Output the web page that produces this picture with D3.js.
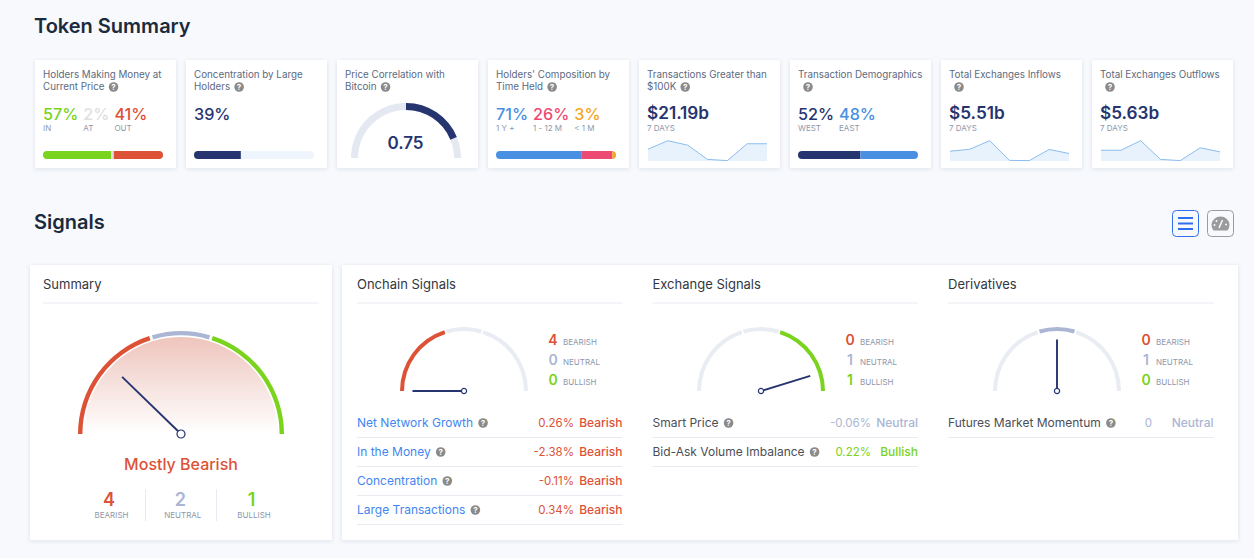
<!DOCTYPE html>
<html>
<head>
<meta charset="utf-8">
<script src="https://cdn.jsdelivr.net/npm/d3@7"></script>
<style>
  html, body { margin: 0; padding: 0; background: #f7f9fd; overflow: hidden; }
  svg { display: block; font-family: Inter, "Noto Sans", sans-serif; }
</style>
</head>
<body>
<svg width="1254" height="558"></svg>
<script>
// token summary cards
const cardTitles = [
  ["Holders Making Money at", "Current Price"],
  ["Concentration by Large", "Holders"],
  ["Price Correlation with", "Bitcoin"],
  ["Holders' Composition by", "Time Held"],
  ["Transactions Greater than", "$100K"],
  ["Transaction Demographics", ""],
  ["Total Exchanges Inflows", ""],
  ["Total Exchanges Outflows", ""]
];

const moneyValues = [57, 2, 41];
const moneyLabels = ["IN", "AT", "OUT"];
const concentrationValue = 39;
const correlationValue = 0.75;
const timeHeldValues = [71, 26, 3];
const timeHeldLabels = ["1 Y +", "1 - 12 M", "< 1 M"];
const demographicValues = [52, 48];
const demographicLabels = ["WEST", "EAST"];

// sparklines, relative to the highest day of each week
const largeTxTotal = "$21.19b";
const largeTxSeries = [58, 100, 78, 8, 2, 85, 85];
const inflowTotal = "$5.51b";
const inflowSeries = [48, 58, 100, 3, 2, 57, 37];
const outflowTotal = "$5.63b";
const outflowSeries = [53, 53, 100, 8, 2, 65, 45];

// signals
const signalKinds = ["Bearish", "Neutral", "Bullish"];
const gaugeBands = [-1, -0.2, 0.2, 1];
const summaryCounts = [4, 2, 1];
const summaryNeedle = -0.51;
const onchainCounts = [4, 0, 0];
const onchainNeedle = -1;
const exchangeCounts = [0, 1, 1];
const exchangeNeedle = 0.81;
const derivativeCounts = [0, 1, 0];
const derivativeNeedle = 0;

const onchainNames = ["Net Network Growth", "In the Money", "Concentration", "Large Transactions"];
const onchainValues = ["0.26%", "-2.38%", "-0.11%", "0.34%"];
const onchainStates = ["Bearish", "Bearish", "Bearish", "Bearish"];
const exchangeNames = ["Smart Price", "Bid-Ask Volume Imbalance"];
const exchangeValues = ["-0.06%", "0.22%"];
const exchangeStates = ["Neutral", "Bullish"];
const derivativeNames = ["Futures Market Momentum"];
const derivativeValues = ["0"];
const derivativeStates = ["Neutral"];

const red = "#dd5236", green = "#7ad31c", neutral = "#aab6d3", idle = "#e9ecf3";
const navy = "#26346f", blue = "#4a90e2", pink = "#ec4a73", orange = "#f5a623";
const kindColor = { Bearish: red, Neutral: neutral, Bullish: green };

const svg = d3.select("svg");
const defs = svg.append("defs");

const shadow = defs.append("filter").attr("id", "shadow")
  .attr("x", "-10%").attr("y", "-10%").attr("width", "120%").attr("height", "120%");
shadow.append("feDropShadow").attr("dx", 0).attr("dy", 1).attr("stdDeviation", 2)
  .attr("flood-color", "#1e2a50").attr("flood-opacity", 0.1);

const grad = defs.append("linearGradient").attr("id", "bearFill")
  .attr("x1", 0).attr("y1", 0).attr("x2", 0).attr("y2", 1);
grad.append("stop").attr("offset", "0%").attr("stop-color", "#eec5bd");
grad.append("stop").attr("offset", "100%").attr("stop-color", "#ffffff");

function label(x, y, str, size, color, weight, anchor) {
  return svg.append("text")
    .attr("x", x).attr("y", y)
    .attr("font-size", size)
    .attr("font-weight", weight || 400)
    .attr("fill", color)
    .attr("text-anchor", anchor || "start")
    .text(str);
}

function card(x, y, w, h) {
  svg.append("rect").attr("x", x).attr("y", y).attr("width", w).attr("height", h)
    .attr("fill", "#fff").attr("filter", "url(#shadow)");
}

function helpIcon(x, y) {
  svg.append("circle").attr("cx", x).attr("cy", y).attr("r", 4.8).attr("fill", "#8a8a8a");
  label(x, y + 3, "?", 8, "#fff", 700, "middle");
}

function rule(x1, x2, y) {
  svg.append("line").attr("x1", x1).attr("x2", x2).attr("y1", y).attr("y2", y)
    .attr("stroke", "#e8ebf1").attr("stroke-width", 1);
}

function stackedBar(x, id, values, colors, back) {
  const xs = d3.scaleLinear().domain([0, 100]).range([x, x + 120]);
  defs.append("clipPath").attr("id", id).append("rect")
    .attr("x", x).attr("y", 151).attr("width", 120).attr("height", 8).attr("rx", 4);
  const g = svg.append("g").attr("clip-path", "url(#" + id + ")");
  if (back) g.append("rect").attr("x", x).attr("y", 151).attr("width", 120).attr("height", 8).attr("fill", back);
  let sum = 0;
  values.forEach((v, i) => {
    g.append("rect").attr("x", xs(sum)).attr("y", 151)
      .attr("width", xs(sum + v) - xs(sum)).attr("height", 8).attr("fill", colors[i]);
    sum += v;
  });
}

function statRow(x, values, labels, colors) {
  let cur = x;
  values.forEach((v, i) => {
    const t = label(cur, 120, v + "%", 16.2, colors[i], 500);
    label(cur, 131, labels[i], 8, "#8e97aa");
    cur += t.node().getComputedTextLength() + 5;
  });
}

function sparkline(x, total, series) {
  label(x, 119, total, 17.2, navy, 600);
  label(x, 131, "7 DAYS", 8, "#8e97aa");
  const sx = d3.scaleLinear().domain([0, series.length - 1]).range([x + 1, x + 120]);
  const sy = d3.scaleLinear().domain([0, 100]).range([161, 140.7]);
  const area = d3.area().x((d, i) => sx(i)).y0(161).y1(d => sy(d));
  const line = d3.line().x((d, i) => sx(i)).y(d => sy(d));
  svg.append("path").attr("d", area(series)).attr("fill", "#e8f2fc");
  svg.append("path").attr("d", line(series)).attr("fill", "none")
    .attr("stroke", "#8bbdf0").attr("stroke-width", 1);
}

const angle = d3.scaleLinear().domain([-1, 1]).range([-Math.PI / 2, Math.PI / 2]);

function gauge(cx, cy, r, thick, active, needle, len, hub) {
  const g = svg.append("g").attr("transform", "translate(" + cx + "," + cy + ")");
  const gap = 0.028; // only the middle band is shortened
  const colors = [red, neutral, green];
  colors.forEach((c, i) => {
    const arc = d3.arc().innerRadius(r - thick).outerRadius(r)
      .startAngle(angle(gaugeBands[i]) + (i == 1 ? gap : 0))
      .endAngle(angle(gaugeBands[i + 1]) - (i == 1 ? gap : 0));
    g.append("path").attr("d", arc()).attr("fill", active[i] ? c : idle);
  });
  const a = angle(needle);
  g.append("line").attr("x1", 0).attr("y1", 0)
    .attr("x2", len * Math.sin(a)).attr("y2", -len * Math.cos(a))
    .attr("stroke", navy).attr("stroke-width", 1.9);
  g.append("circle").attr("r", hub).attr("fill", "#fff").attr("stroke", navy).attr("stroke-width", 1.2);
}

function signalPanel(x, title, gaugeX, counts, needle, active, names, values, states, nameColor, valueEnd, legendX) {
  label(x, 289, title, 13, "#33383f");
  rule(x, x + 265.5, 303);
  gauge(gaugeX, 391, 64, 4, active, needle, 51.5, 2.6);
  signalKinds.forEach((k, i) => {
    label(legendX, 345 + i * 20, counts[i], 14, kindColor[k], 600, "middle");
    label(legendX + 10, 345 + i * 20, k.toUpperCase(), 8, "#8e97aa");
  });
  names.forEach((n, i) => {
    const y = 427 + i * 29;
    const t = label(x, y, n, 12, nameColor);
    helpIcon(x + t.node().getComputedTextLength() + 10, y - 4);
    label(valueEnd, y, values[i], 11.5, kindColor[states[i]], 400, "end");
    label(x + 265.5, y, states[i], 12, kindColor[states[i]], 500, "end");
    rule(x, x + 265.5, y + 10.5);
  });
}

// headings
label(34, 33, "Token Summary", 20, "#1b2a3c", 600);
label(34, 229, "Signals", 20, "#1b2a3c", 600);

// top cards
const cardX = d3.range(cardTitles.length).map(i => 35 + i * 151);
cardTitles.forEach((lines, i) => {
  const x = cardX[i];
  card(x, 60, 141, 108);
  label(x + 8, 78, lines[0], 9.8, "#5c6a80");
  if (lines[1]) {
    const t = label(x + 8, 90, lines[1], 9.8, "#5c6a80");
    helpIcon(x + 8 + t.node().getComputedTextLength() + 9, 87);
  } else {
    helpIcon(x + 18, 87);
  }
});

statRow(cardX[0] + 8, moneyValues, moneyLabels, [green, "#e0e0e0", red]);
stackedBar(cardX[0] + 8, "barMoney", moneyValues, [green, "#e0e0e0", red]);

label(cardX[1] + 8, 120, concentrationValue + "%", 16.2, navy, 500);
stackedBar(cardX[1] + 8, "barConc", [concentrationValue], [navy], "#eef5fd");

// correlation gauge
const corr = svg.append("g").attr("transform", "translate(" + (cardX[2] + 69) + ",158)");
const corrScale = d3.scaleLinear().domain([0, 1]).range([0, Math.PI / 2]);
corr.append("path").attr("fill", "#e4e8f0")
  .attr("d", d3.arc().innerRadius(48).outerRadius(55).startAngle(-Math.PI / 2).endAngle(Math.PI / 2)());
corr.append("path").attr("fill", navy)
  .attr("d", d3.arc().innerRadius(48).outerRadius(55).startAngle(0).endAngle(corrScale(correlationValue))());
label(cardX[2] + 68.5, 149, correlationValue, 17, navy, 600, "middle");

statRow(cardX[3] + 8, timeHeldValues, timeHeldLabels, [blue, pink, orange]);
stackedBar(cardX[3] + 8, "barTime", timeHeldValues, [blue, pink, orange]);

sparkline(cardX[4] + 8, largeTxTotal, largeTxSeries);

statRow(cardX[5] + 8, demographicValues, demographicLabels, [navy, blue]);
stackedBar(cardX[5] + 8, "barDemo", demographicValues, [navy, blue]);

sparkline(cardX[6] + 8, inflowTotal, inflowSeries);
sparkline(cardX[7] + 8, outflowTotal, outflowSeries);

// view toggle buttons
svg.append("rect").attr("x", 1172.5).attr("y", 210.5).attr("width", 26).attr("height", 26).attr("rx", 4)
  .attr("fill", "#f7f9fd").attr("stroke", "#2f6fed");
d3.range(3).forEach(i => {
  svg.append("rect").attr("x", 1178).attr("y", 217 + i * 5.5).attr("width", 15).attr("height", 2)
    .attr("fill", "#2f6fed");
});
svg.append("rect").attr("x", 1207.5).attr("y", 210.5).attr("width", 26).attr("height", 26).attr("rx", 4)
  .attr("fill", "#f7f9fd").attr("stroke", "#9b9b9b");
svg.append("path").attr("fill", "#9b9b9b")
  .attr("d", "M1213.5 230.5a9 9 0 0 1 -2 -5.5a9 8.5 0 0 1 18 0a9 9 0 0 1 -2 5.5z");
svg.append("line").attr("x1", 1219).attr("y1", 228).attr("x2", 1222.5).attr("y2", 220)
  .attr("stroke", "#f7f9fd").attr("stroke-width", 1.5);
[[1214.5, 225], [1216.5, 221], [1226, 224.5]].forEach(p => {
  svg.append("circle").attr("cx", p[0]).attr("cy", p[1]).attr("r", 1).attr("fill", "#f7f9fd");
});

// summary card
card(30, 265, 302, 275);
label(43, 289, "Summary", 13, "#33383f");
rule(43, 319, 303);
svg.append("path").attr("transform", "translate(181,434)").attr("fill", "url(#bearFill)")
  .attr("d", d3.arc().innerRadius(0).outerRadius(97).startAngle(-Math.PI / 2).endAngle(Math.PI / 2)());
svg.append("circle").attr("cx", 181).attr("cy", 434).attr("r", 8).attr("fill", "#fff");
gauge(181, 434, 103, 4.4, [1, 1, 1], summaryNeedle, 82, 4);
label(181, 470, "Mostly Bearish", 16, red, 500, "middle");
const summaryX = d3.scalePoint().domain(signalKinds).range([109, 251.5]);
signalKinds.forEach((k, i) => {
  label(summaryX(k), 506, summaryCounts[i], 18, kindColor[k], 600, "middle");
  label(summaryX(k) + 2.5, 518, k.toUpperCase(), 8, "#8e97aa", 400, "middle");
});
[145.5, 216.5].forEach(x => {
  svg.append("line").attr("x1", x).attr("x2", x).attr("y1", 489).attr("y2", 521)
    .attr("stroke", "#e8ebf1");
});

// signal groups
card(342, 265, 896, 275);
signalPanel(357, "Onchain Signals", 464, onchainCounts, onchainNeedle, [1, 0, 0],
  onchainNames, onchainValues, onchainStates, "#3f86f2", 574, 553);
signalPanel(652.5, "Exchange Signals", 761, exchangeCounts, exchangeNeedle, [0, 0, 1],
  exchangeNames, exchangeValues, exchangeStates, "#4a4f57", 871, 850);
signalPanel(948, "Derivatives", 1057, derivativeCounts, derivativeNeedle, [0, 1, 0],
  derivativeNames, derivativeValues, derivativeStates, "#4a4f57", 1152, 1146);
</script>
</body>
</html>
